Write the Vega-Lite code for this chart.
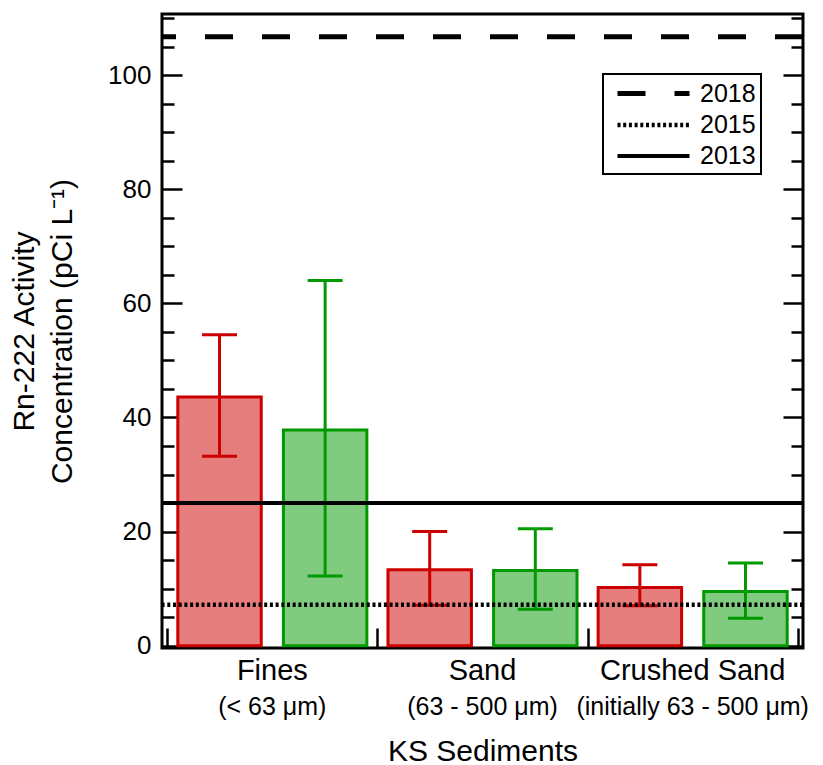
{
  "$schema": "https://vega.github.io/schema/vega-lite/v6.json",
  "autosize": {"type": "none"},
  "padding": {"left": 162, "top": 14, "right": 20, "bottom": 117},
  "width": 641,
  "height": 634,
  "config": {
    "font": "Liberation Sans",
    "view": {"stroke": "black", "strokeWidth": 3},
    "legend": {"strokeWidth": 2},
    "axis": {"labelColor": "black", "titleColor": "black", "tickColor": "black", "labelFont": "Liberation Sans", "titleFont": "Liberation Sans", "titleFontWeight": "normal"}
  },
  "datasets": {
    "bars": [
      {"group": "Fines", "type": "A", "value": 43.6, "lo": 33.2, "hi": 54.5},
      {"group": "Fines", "type": "B", "value": 37.8, "lo": 12.2, "hi": 64.0},
      {"group": "Sand", "type": "A", "value": 13.3, "lo": 7.1, "hi": 20.0},
      {"group": "Sand", "type": "B", "value": 13.2, "lo": 6.4, "hi": 20.5},
      {"group": "Crushed Sand", "type": "A", "value": 10.2, "lo": 7.0, "hi": 14.2},
      {"group": "Crushed Sand", "type": "B", "value": 9.5, "lo": 4.8, "hi": 14.5}
    ],
    "refs": [
      {"year": "2018", "value": 106.7},
      {"year": "2015", "value": 7.2},
      {"year": "2013", "value": 25.0}
    ]
  },
  "resolve": {"scale": {"y": "shared", "x": "shared"}, "axis": {"y": "independent", "x": "independent"}},
  "layer": [
    {
      "data": {"name": "bars"},
      "mark": {"type": "bar", "strokeWidth": 3},
      "encoding": {
        "x": {
          "field": "group", "type": "nominal", "sort": ["Fines", "Sand", "Crushed Sand"],
          "scale": {"paddingInner": 0, "paddingOuter": 0.025},
          "axis": {
            "orient": "bottom", "title": null, "labels": false,
            "tickBand": "extent", "tickSize": -20, "tickWidth": 2.5, "domain": false
          }
        },
        "xOffset": {"field": "type", "type": "nominal", "scale": {"paddingInner": 0.21, "paddingOuter": 0.1}},
        "y": {
          "field": "value", "type": "quantitative",
          "scale": {"domain": [-0.4, 110.7], "nice": false, "zero": false},
          "axis": {
            "orient": "left",
            "title": ["Rn-222 Activity", "Concentration (pCi L⁻¹)"],
            "titleFontSize": 30, "titleLineHeight": 38, "titlePadding": 30,
            "values": [0,5,10,15,20,25,30,35,40,45,50,55,60,65,70,75,80,85,90,95,100,105,110],
            "labelExpr": "datum.value % 20 === 0 ? datum.label : ''",
            "labelFontSize": 26, "labelPadding": 31,
            "tickSize": {"condition": {"test": "datum.value % 20 === 0", "value": -20}, "value": -12},
            "tickWidth": 2.5, "grid": false, "domain": false
          }
        },
        "fill": {"field": "type", "type": "nominal", "scale": {"domain": ["A", "B"], "range": ["#E67E7E", "#80CB80"]}, "legend": null},
        "stroke": {"field": "type", "type": "nominal", "scale": {"domain": ["A", "B"], "range": ["#CC0000", "#009900"]}, "legend": null},
        "fillOpacity": {"value": 1}
      }
    },
    {
      "data": {"name": "bars"},
      "mark": {"type": "rule", "strokeWidth": 3},
      "encoding": {
        "x": {
          "field": "group", "type": "nominal", "sort": ["Fines", "Sand", "Crushed Sand"],
          "axis": {
            "orient": "bottom", "title": null,
            "ticks": false, "tickSize": 0, "domain": false,
            "labelAngle": 0, "labelFontSize": 29, "labelPadding": 8, "labelLimit": 500
          }
        },
        "xOffset": {"field": "type", "type": "nominal"},
        "y": {"field": "lo", "type": "quantitative", "axis": null},
        "y2": {"field": "hi"},
        "stroke": {"field": "type", "type": "nominal", "legend": null}
      }
    },
    {
      "data": {"name": "bars"},
      "mark": {"type": "tick", "thickness": 3, "size": 35, "opacity": 1},
      "encoding": {
        "x": {
          "field": "group", "type": "nominal", "sort": ["Fines", "Sand", "Crushed Sand"],
          "axis": {
            "orient": "bottom", "title": "KS Sediments", "titleFontSize": 30, "titlePadding": 17,
            "ticks": false, "tickSize": 0, "domain": false,
            "labelAngle": 0, "labelFontSize": 25, "labelPadding": 46, "labelLimit": 500,
            "labelExpr": "datum.value == 'Fines' ? '(< 63 μm)' : datum.value == 'Sand' ? '(63 - 500 μm)' : '(initially 63 - 500 μm)'"
          }
        },
        "xOffset": {"field": "type", "type": "nominal"},
        "y": {"field": "lo", "type": "quantitative", "axis": null},
        "color": {"field": "type", "type": "nominal", "scale": {"domain": ["A", "B"], "range": ["#CC0000", "#009900"]}, "legend": null}
      }
    },
    {
      "data": {"name": "bars"},
      "mark": {"type": "tick", "thickness": 3, "size": 35, "opacity": 1},
      "encoding": {
        "x": {"field": "group", "type": "nominal", "sort": ["Fines", "Sand", "Crushed Sand"], "axis": null},
        "xOffset": {"field": "type", "type": "nominal"},
        "y": {"field": "hi", "type": "quantitative", "axis": null},
        "color": {"field": "type", "type": "nominal", "legend": null}
      }
    },
    {
      "data": {"name": "refs"},
      "mark": {"type": "rule", "color": "black"},
      "encoding": {
        "y": {
          "field": "value", "type": "quantitative",
          "axis": {
            "orient": "right", "title": null, "labels": false, "grid": false, "domain": false,
            "values": [0,5,10,15,20,25,30,35,40,45,50,55,60,65,70,75,80,85,90,95,100,105,110],
            "tickSize": {"condition": {"test": "datum.value % 20 === 0", "value": -20}, "value": -12},
            "tickWidth": 2.5
          }
        },
        "strokeDash": {
          "field": "year", "type": "nominal",
          "scale": {"domain": ["2018", "2015", "2013"], "range": [[28, 29], [3, 2.7], [1, 0]]},
          "legend": {
            "title": null, "orient": "none", "legendX": 441, "legendY": 60,
            "symbolType": "M-3,0H3", "symbolSize": 576, "symbolStrokeColor": "black", "symbolOffset": 31,
            "labelFontSize": 25, "labelFont": "Liberation Sans", "labelColor": "black", "labelOffset": 32,
            "strokeColor": "black", "padding": 5, "fillColor": "white", "rowPadding": 3.5
          }
        },
        "strokeWidth": {
          "field": "year", "type": "nominal",
          "scale": {"domain": ["2018", "2015", "2013"], "range": [5, 4, 6]}
        }
      }
    }
  ]
}
